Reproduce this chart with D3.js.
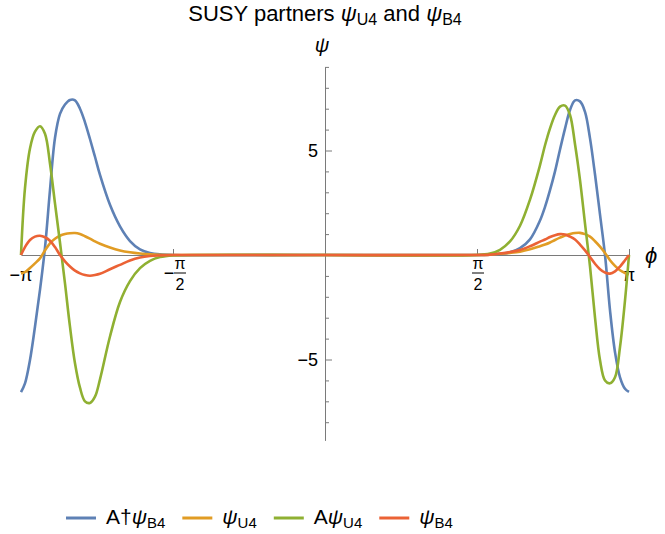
<!DOCTYPE html>
<html><head><meta charset="utf-8">
<script src="https://cdn.jsdelivr.net/npm/d3@7"></script>
<style>
body{margin:0;background:#fff}
svg{display:block}
text{font-family:"Liberation Sans",Arial,sans-serif;fill:#000}
</style>
</head><body>
<svg id="c" width="665" height="534"></svg>
<script>
// ---------- data ----------
const phi = [
 -3.1416,-3.1004,-3.0487,-2.9971,-2.9454,-2.8937,-2.8421,-2.7904,-2.7387,-2.6870,-2.6354,-2.5837,
 -2.5320,-2.4804,-2.4287,-2.3770,-2.3253,-2.2220,-2.1186,-2.0153,-1.9119,-1.8086,-1.7052,-1.5708,
 0,
 1.5708,1.7052,1.8086,1.9119,2.0153,2.1186,2.2220,2.2737,2.3253,2.3770,2.4287,2.4804,2.5320,
 2.5837,2.6354,2.6870,2.7387,2.7904,2.8421,2.8937,2.9454,2.9971,3.0487,3.1004,3.1416
];
const seriesNames = ["A†ψB4","ψU4","AψU4","ψB4"];
const adjB4 = [ // A†ψB4 (blue)
 -6.56,-6.14,-5.02,-3.43,-1.67,0.35,3.1,5.6,6.75,7.2,7.42,7.4,
 7.0,6.35,5.55,4.7,3.83,2.4,1.37,0.67,0.27,0.1,0.03,0,
 0,
 0,0.02,0.06,0.13,0.33,0.75,1.65,2.3,3.1,4.0,5.05,6.05,6.94,
 7.4,7.35,6.85,5.58,3.85,1.93,0,-2.65,-4.65,-5.85,-6.4,-6.55
];
const psiU4 = [ // ψU4 (orange)
 -0.88,-0.82,-0.62,-0.4,-0.16,0.22,0.56,0.78,0.92,1.0,1.04,1.05,
 1.0,0.9,0.78,0.65,0.54,0.36,0.22,0.13,0.07,0.03,0.01,0,
 0,
 0,0.02,0.06,0.1,0.16,0.27,0.42,0.5,0.6,0.72,0.83,0.93,1.0,
 1.05,1.06,1.0,0.88,0.66,0.4,0.1,-0.25,-0.52,-0.73,-0.86,-0.92
];
const aU4 = [ // AψU4 (green)
 0,3.2,5.1,5.9,6.16,5.8,4.38,2.47,0.6,-1.36,-3.43,-5.18,
 -6.35,-7.0,-7.08,-6.78,-5.95,-3.9,-2.25,-1.25,-0.63,-0.28,-0.1,-0.02,
 0,
 0,0.07,0.25,0.65,1.4,2.65,4.3,5.25,6.06,6.7,7.1,7.15,6.7,
 5.3,3.58,1.5,-0.55,-3.0,-5.04,-6.0,-6.14,-5.85,-4.4,-2.17,0
];
const psiB4 = [ // ψB4 (red)
 0,0.38,0.72,0.88,0.92,0.85,0.68,0.38,0.0,-0.3,-0.55,-0.75,
 -0.88,-0.96,-0.99,-0.96,-0.9,-0.68,-0.47,-0.26,-0.12,-0.05,-0.02,0,
 0,
 0,0.02,0.07,0.14,0.24,0.42,0.64,0.74,0.86,0.95,1.0,0.98,0.88,
 0.74,0.5,0.22,-0.1,-0.42,-0.68,-0.84,-0.89,-0.78,-0.55,-0.25,0
];
const legendPrefix = ["A†","","A",""];
const legendSub = ["B4","U4","U4","B4"];
const xTickValues = [-Math.PI,-Math.PI/2,Math.PI/2,Math.PI];
const xTickLabels = [
 {sign:"−",num:"π",den:null},
 {sign:"−",num:"π",den:"2"},
 {sign:"",num:"π",den:"2"},
 {sign:"",num:"π",den:null}
];
const yMinorTicks = [-8,-7,-6,-4,-3,-2,-1,1,2,3,4,6,7,8,9];
const yMajorTicks = [-5,5];

// ---------- drawing ----------
const colors = ["#5E81B5","#E19C24","#8FB032","#EB6235"];
const series = [adjB4, psiU4, aU4, psiB4];
const svg = d3.select("#c");
const x = d3.scaleLinear().domain([-Math.PI, Math.PI]).range([21, 629]);
const y = d3.scaleLinear().domain([-8.87, 9]).range([440.4, 66.9]);
const axisColor = "#7a7a7a";

// x axis
const gx = svg.append("g").attr("transform", `translate(0,${y(0)})`)
  .call(d3.axisBottom(x).tickValues(xTickValues).tickSizeInner(-6).tickSizeOuter(0).tickFormat(""));
gx.selectAll("path,line").attr("stroke", axisColor).attr("stroke-width", 1);

// y axis (minor + major)
const gyMinor = svg.append("g").attr("transform", `translate(${x(0)},0)`)
  .call(d3.axisLeft(y).tickValues(yMinorTicks).tickSizeInner(-4).tickSizeOuter(0).tickFormat(""));
gyMinor.selectAll("path,line").attr("stroke", axisColor).attr("stroke-width", 1);
const gyMajor = svg.append("g").attr("transform", `translate(${x(0)},0)`)
  .call(d3.axisLeft(y).tickValues(yMajorTicks).tickSizeInner(-7).tickSizeOuter(0).tickPadding(7));
gyMajor.select(".domain").remove();
gyMajor.selectAll("line").attr("stroke", axisColor).attr("stroke-width", 1);
gyMajor.selectAll("text").attr("font-size", 18).style("font-family", '"Liberation Sans",Arial,sans-serif');

// x tick labels
xTickValues.forEach((v, i) => {
  const lab = xTickLabels[i];
  const cx = x(v);
  if (!lab.den) {
    svg.append("text").attr("x", cx).attr("y", 281).attr("text-anchor", "middle")
      .attr("font-size", 18).text(lab.sign + lab.num);
  } else {
    const fx = cx + (lab.sign ? 7 : 1);
    svg.append("text").attr("x", fx).attr("y", 268.5).attr("text-anchor", "middle")
      .attr("font-size", 16).text(lab.num);
    svg.append("line").attr("x1", fx - 6).attr("x2", fx + 6).attr("y1", 273).attr("y2", 273)
      .attr("stroke", "#000").attr("stroke-width", 1);
    svg.append("text").attr("x", fx).attr("y", 290).attr("text-anchor", "middle")
      .attr("font-size", 16).text(lab.den);
    if (lab.sign) svg.append("text").attr("x", fx - 11).attr("y", 278.5).attr("text-anchor", "middle")
      .attr("font-size", 18).text(lab.sign);
  }
});

// axis labels
svg.append("text").attr("x", x(0) - 3).attr("y", 52).attr("text-anchor", "middle")
  .attr("font-size", 20).attr("font-style", "italic").text("ψ");
svg.append("text").attr("x", 651).attr("y", 263).attr("text-anchor", "middle")
  .attr("font-size", 22).attr("font-style", "italic").text("ϕ");

// curves
const line = d3.line().x((d, i) => x(phi[i])).y(d => y(d)).curve(d3.curveCatmullRom.alpha(0.5));
series.forEach((s, k) => {
  svg.append("path").datum(s).attr("d", line).attr("fill", "none")
    .attr("stroke", colors[k]).attr("stroke-width", 2.6).attr("stroke-linejoin", "round");
});

// title
const title = svg.append("text").attr("x", 325).attr("y", 21).attr("text-anchor", "middle").attr("font-size", 22);
title.append("tspan").text("SUSY partners ");
title.append("tspan").attr("font-style", "italic").text("ψ");
title.append("tspan").attr("dy", 4).attr("font-size", 16).text("U4");
title.append("tspan").attr("dy", -4).text(" and ");
title.append("tspan").attr("font-style", "italic").text("ψ");
title.append("tspan").attr("dy", 4).attr("font-size", 16).text("B4");

// legend
let lx = 66;
const ly = 518;
seriesNames.forEach((name, k) => {
  svg.append("line").attr("x1", lx).attr("x2", lx + 30).attr("y1", ly).attr("y2", ly)
    .attr("stroke", colors[k]).attr("stroke-width", 3);
  const t = svg.append("text").attr("x", lx + 40).attr("y", ly + 6).attr("font-size", 21);
  if (legendPrefix[k]) t.append("tspan").text(legendPrefix[k]);
  t.append("tspan").attr("font-style", "italic").text("ψ");
  t.append("tspan").attr("dy", 4).attr("font-size", 15).text(legendSub[k]);
  const w = t.node().getComputedTextLength();
  lx = lx + 40 + w + 17;
});
</script>
</body></html>
